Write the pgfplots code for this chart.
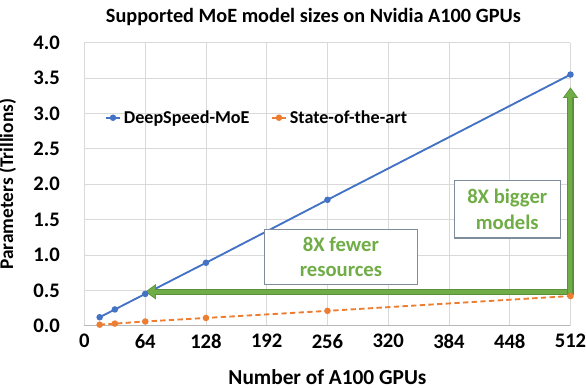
\documentclass[border=0pt]{standalone}
\usepackage{pgfplots}
\pgfplotsset{compat=1.18}
\usepackage{fontspec}
\setmainfont{Carlito}
\usetikzlibrary{arrows.meta}
\definecolor{dsblue}{HTML}{4472C4}
\definecolor{sotaorange}{HTML}{ED7D31}
\definecolor{agreen}{HTML}{70AD47}
\definecolor{agreendark}{HTML}{5B8F3A}
\definecolor{boxborder}{HTML}{7F8C9C}
\definecolor{gridgray}{HTML}{D9D9D9}
\begin{document}
\begin{tikzpicture}[x=0.75pt,y=0.75pt]
\useasboundingbox (0,0) rectangle (586,388);
\begin{axis}[
  at={(89,88)}, anchor=south west,
  scale only axis, width=364.5pt, height=212.25pt,
  xmin=0, xmax=512, ymin=0, ymax=4,
  xtick={0,64,...,512}, ytick={0,0.5,...,4},
  grid=major, grid style={gridgray, line width=0.6pt},
  axis x line*=bottom, axis y line*=left,
  x axis line style={draw=gray!55, line width=0.7pt, -},
  y axis line style={draw=none},
  major tick length=0pt,
  font=\bfseries\fontsize{15.5}{18}\selectfont,
  tick label style={font=\bfseries\fontsize{15.5}{18}\selectfont},
  /pgf/number format/assume math mode=true,
  yticklabel style={/pgf/number format/fixed, /pgf/number format/fixed zerofill, /pgf/number format/precision=1, xshift=-15pt},
  xticklabel style={yshift=-3pt},
  title={Supported MoE model sizes on Nvidia A100 GPUs},
  title style={font=\bfseries\fontsize{15.2}{17}\selectfont, yshift=3pt, xshift=-10.6pt},
  xlabel={Number of A100 GPUs},
  ylabel={Parameters (Trillions)},
  xlabel style={font=\bfseries\fontsize{16}{18}\selectfont, yshift=-8.5pt},
  ylabel style={font=\bfseries\fontsize{14.5}{17}\selectfont, yshift=6pt},
  legend columns=2,
  legend style={draw=none, fill=none, at={(axis cs:17,2.94)}, anchor=west,
    font=\bfseries\fontsize{13.6}{16}\selectfont,
    /tikz/every even column/.append style={column sep=14pt}},
  legend cell align=left,
  legend image code/.code={\draw[mark repeat=2,mark phase=2,#1] plot coordinates {(0cm,0cm) (0.19cm,0cm) (0.38cm,0cm)};},
  clip=false,
]
\addplot[dsblue, line width=1.4pt, mark=*, mark size=1.7pt] coordinates {
  (16,0.12) (32,0.23) (64,0.45) (128,0.89) (256,1.78) (512,3.55)};
\addlegendentry{DeepSpeed-MoE}
\addplot[sotaorange, line width=1.4pt, dash pattern=on 4pt off 2.5pt, mark=*, mark size=1.7pt, mark options={solid}] coordinates {
  (16,0.015) (32,0.03) (64,0.06) (128,0.11) (256,0.21) (512,0.42)};
\addlegendentry{State-of-the-art}
% annotation arrows
\draw[agreendark, line width=4.6pt, -{Triangle[width=11pt,length=8pt]}] (axis cs:512,0.48) -- (axis cs:64,0.48);
\draw[agreen, line width=3pt, -{Triangle[width=9pt,length=6.5pt]}] (axis cs:511,0.48) -- (axis cs:65.5,0.48);
\draw[agreendark, line width=4.6pt, -{Triangle[width=11pt,length=8pt]}] (axis cs:512,0.44) -- (axis cs:512,3.37);
\draw[agreen, line width=3pt, -{Triangle[width=9pt,length=6.5pt]}] (axis cs:512,0.46) -- (axis cs:512,3.35);
% boxes
\draw[boxborder, fill=white, line width=0.8pt] (axis cs:189.6,0.58) rectangle (axis cs:350.8,1.357);
\node[agreen, font=\bfseries\fontsize{15.5}{19}\selectfont, align=center] at (axis cs:270.2,0.97) {8X fewer\\resources};
\draw[boxborder, fill=white, line width=0.8pt] (axis cs:389.5,1.24) rectangle (axis cs:501.3,2.05);
\node[agreen, font=\bfseries\fontsize{15.5}{19}\selectfont, align=center] at (axis cs:445.4,1.645) {8X bigger\\models};
\end{axis}
\end{tikzpicture}
\end{document}
